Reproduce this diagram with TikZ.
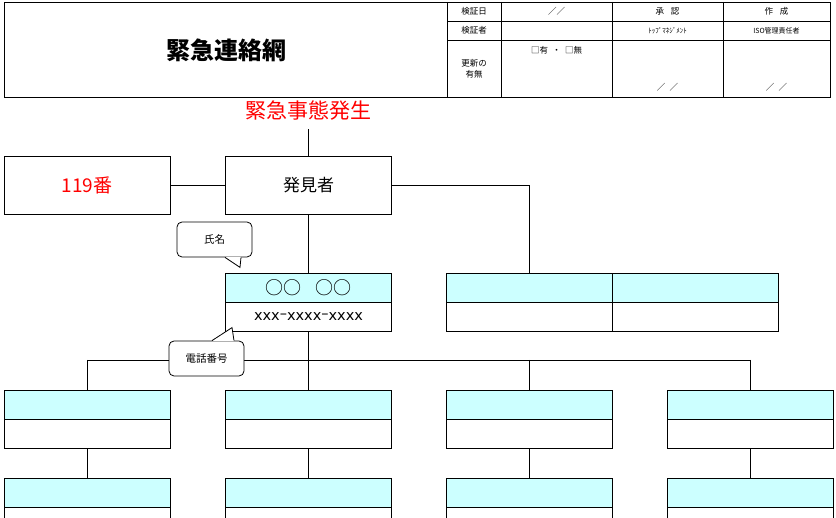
\documentclass[tikz,border=0pt]{standalone}
\usepackage{fontspec}
\setmainfont{Noto Sans CJK JP}
\newfontfamily\telfont{DejaVu Sans}
\usepackage{tikz}
\usetikzlibrary{positioning,calc}
\definecolor{namecyan}{HTML}{CCFFFF}
\definecolor{alarmred}{HTML}{FF0000}

\begin{document}
\begin{tikzpicture}[x=1pt,y=-1pt,line width=0.8pt,
    box/.style={draw,minimum width=166pt,minimum height=58pt,inner sep=0pt},
    namecell/.style={draw,fill=namecyan,minimum width=166pt,minimum height=29pt,inner sep=0pt},
    telcell/.style={draw,minimum width=166pt,minimum height=29pt,inner sep=0pt},
    bubble/.style={draw,fill=white,rounded corners=5pt,minimum width=75pt,minimum height=35pt,inner sep=0pt,font=\fontsize{10.5}{11}\selectfont},
    tabtext/.style={inner sep=0pt,font=\fontsize{8.5}{10.5}\selectfont}]
    \useasboundingbox (0,0) rectangle (836,518);
    \clip (0,0) rectangle (836,518);

    % header
    \draw (4,2) rectangle (830,97);
    \foreach \xcol in {447,501,612,723}
        \draw (\xcol,2) -- (\xcol,97);
    \foreach \yrow in {21,40}
        \draw (447,\yrow) -- (830,\yrow);
    \node[font=\fontsize{24}{24}\selectfont\bfseries] at (226,50) (title) {緊急連絡網};
    \node[tabtext] at (474,11.5) (checkday) {検証日};
    \node[tabtext] at (556.5,11.5) (checkdate) {／／};
    \node[tabtext] at (667.5,11.5) (approve) {承\hspace{0.8em}認};
    \node[tabtext] at (776.5,11.5) (create) {作\hspace{0.8em}成};
    \node[tabtext] at (474,30.5) (checker) {検証者};
    \node[tabtext,font=\fontsize{7}{8}\selectfont] at (667.5,30.5) (topmgmt) {ﾄｯﾌﾟﾏﾈｼﾞﾒﾝﾄ};
    \node[tabtext,font=\fontsize{7}{8}\selectfont] at (776.5,30.5) (isoman) {ISO管理責任者};
    \node[tabtext,align=center] at (474,69) (update) {更新の\\有無};
    \node[tabtext] at (556.5,50) (yesno) {□有\enspace・\enspace□無};
    \node[tabtext] at (667.5,87) (approvedate) {／\enspace／};
    \node[tabtext] at (776.5,87) (createdate) {／\enspace／};

    % first contact
    \node[text=alarmred,font=\fontsize{21}{21}\selectfont] at (308.5,111) (alarm) {緊急事態発生};
    \node[box,text=alarmred,font=\fontsize{19}{20}\selectfont] at (87,185) (fire) {119番};
    \node[box,font=\fontsize{17}{18}\selectfont] at (308.5,185) (finder) {発見者};
    \node[namecell,font=\fontsize{18}{18}\selectfont] at (308.5,287.5) (selfname) {○○\hspace{0.75em}○○};
    \node[telcell,font=\fontsize{14.5}{15}\telfont] at (308.5,317) (selftel) {xxx\raisebox{2.5pt}{–}xxxx\raisebox{2.5pt}{–}xxxx};
    \foreach \xitem/\xpos in {1/529.5,2/695}
    {%
    \node[namecell] at (\xpos,287.5) (pairname\xitem) {};
    \node[telcell] at (\xpos,316.5) (pairtel\xitem) {};
    }%

    % second and third set
    \foreach \xitem/\xpos in {1/87,2/308.5,3/529.5,4/750.5}
    {%
    \node[namecell] at (\xpos,404.5) (rowname\xitem) {};
    \node[telcell] at (\xpos,433.5) (rowtel\xitem) {};
    \node[namecell] at (\xpos,492.5) (lowname\xitem) {};
    \node[telcell] at (\xpos,521.5) (lowtel\xitem) {};
    }%

    % connections
    \draw (alarm.south) ++(0,5) -- (finder.north);
    \draw (fire) -- (finder);
    \draw (finder.east) -| (pairname1.north);
    \draw (finder.south) -- (selfname.north);
    \coordinate (bus) at (308.5,360);
    \draw (selftel.south) -- (bus);
    \draw (rowname1.north |- bus) -- (rowname4.north |- bus);
    \foreach \x in {1,...,4}
    {%
    \draw (rowname\x.north |- bus) -- (rowname\x.north);
    \draw (rowtel\x.south) -- (lowname\x.north);
    }

    % callouts
    \node[bubble] at (214.5,239.5) (namebubble) {氏名};
    \fill[white] ($(namebubble.south)+(10.5,-0.6)$) -- ++(15,10.6) -- ++(1,-10.6) -- cycle;
    \draw ($(namebubble.south)+(10.5,0)$) -- ++(15,10) -- ++(1,-10);
    \node[bubble] at (206.5,358.5) (telbubble) {電話番号};
    \fill[white] ($(telbubble.north)+(5.5,0.6)$) -- ++(20,-13.6) -- ++(2,13.6) -- cycle;
    \draw ($(telbubble.north)+(5.5,0)$) -- ++(20,-13) -- ++(2,13);
\end{tikzpicture}
\end{document}
